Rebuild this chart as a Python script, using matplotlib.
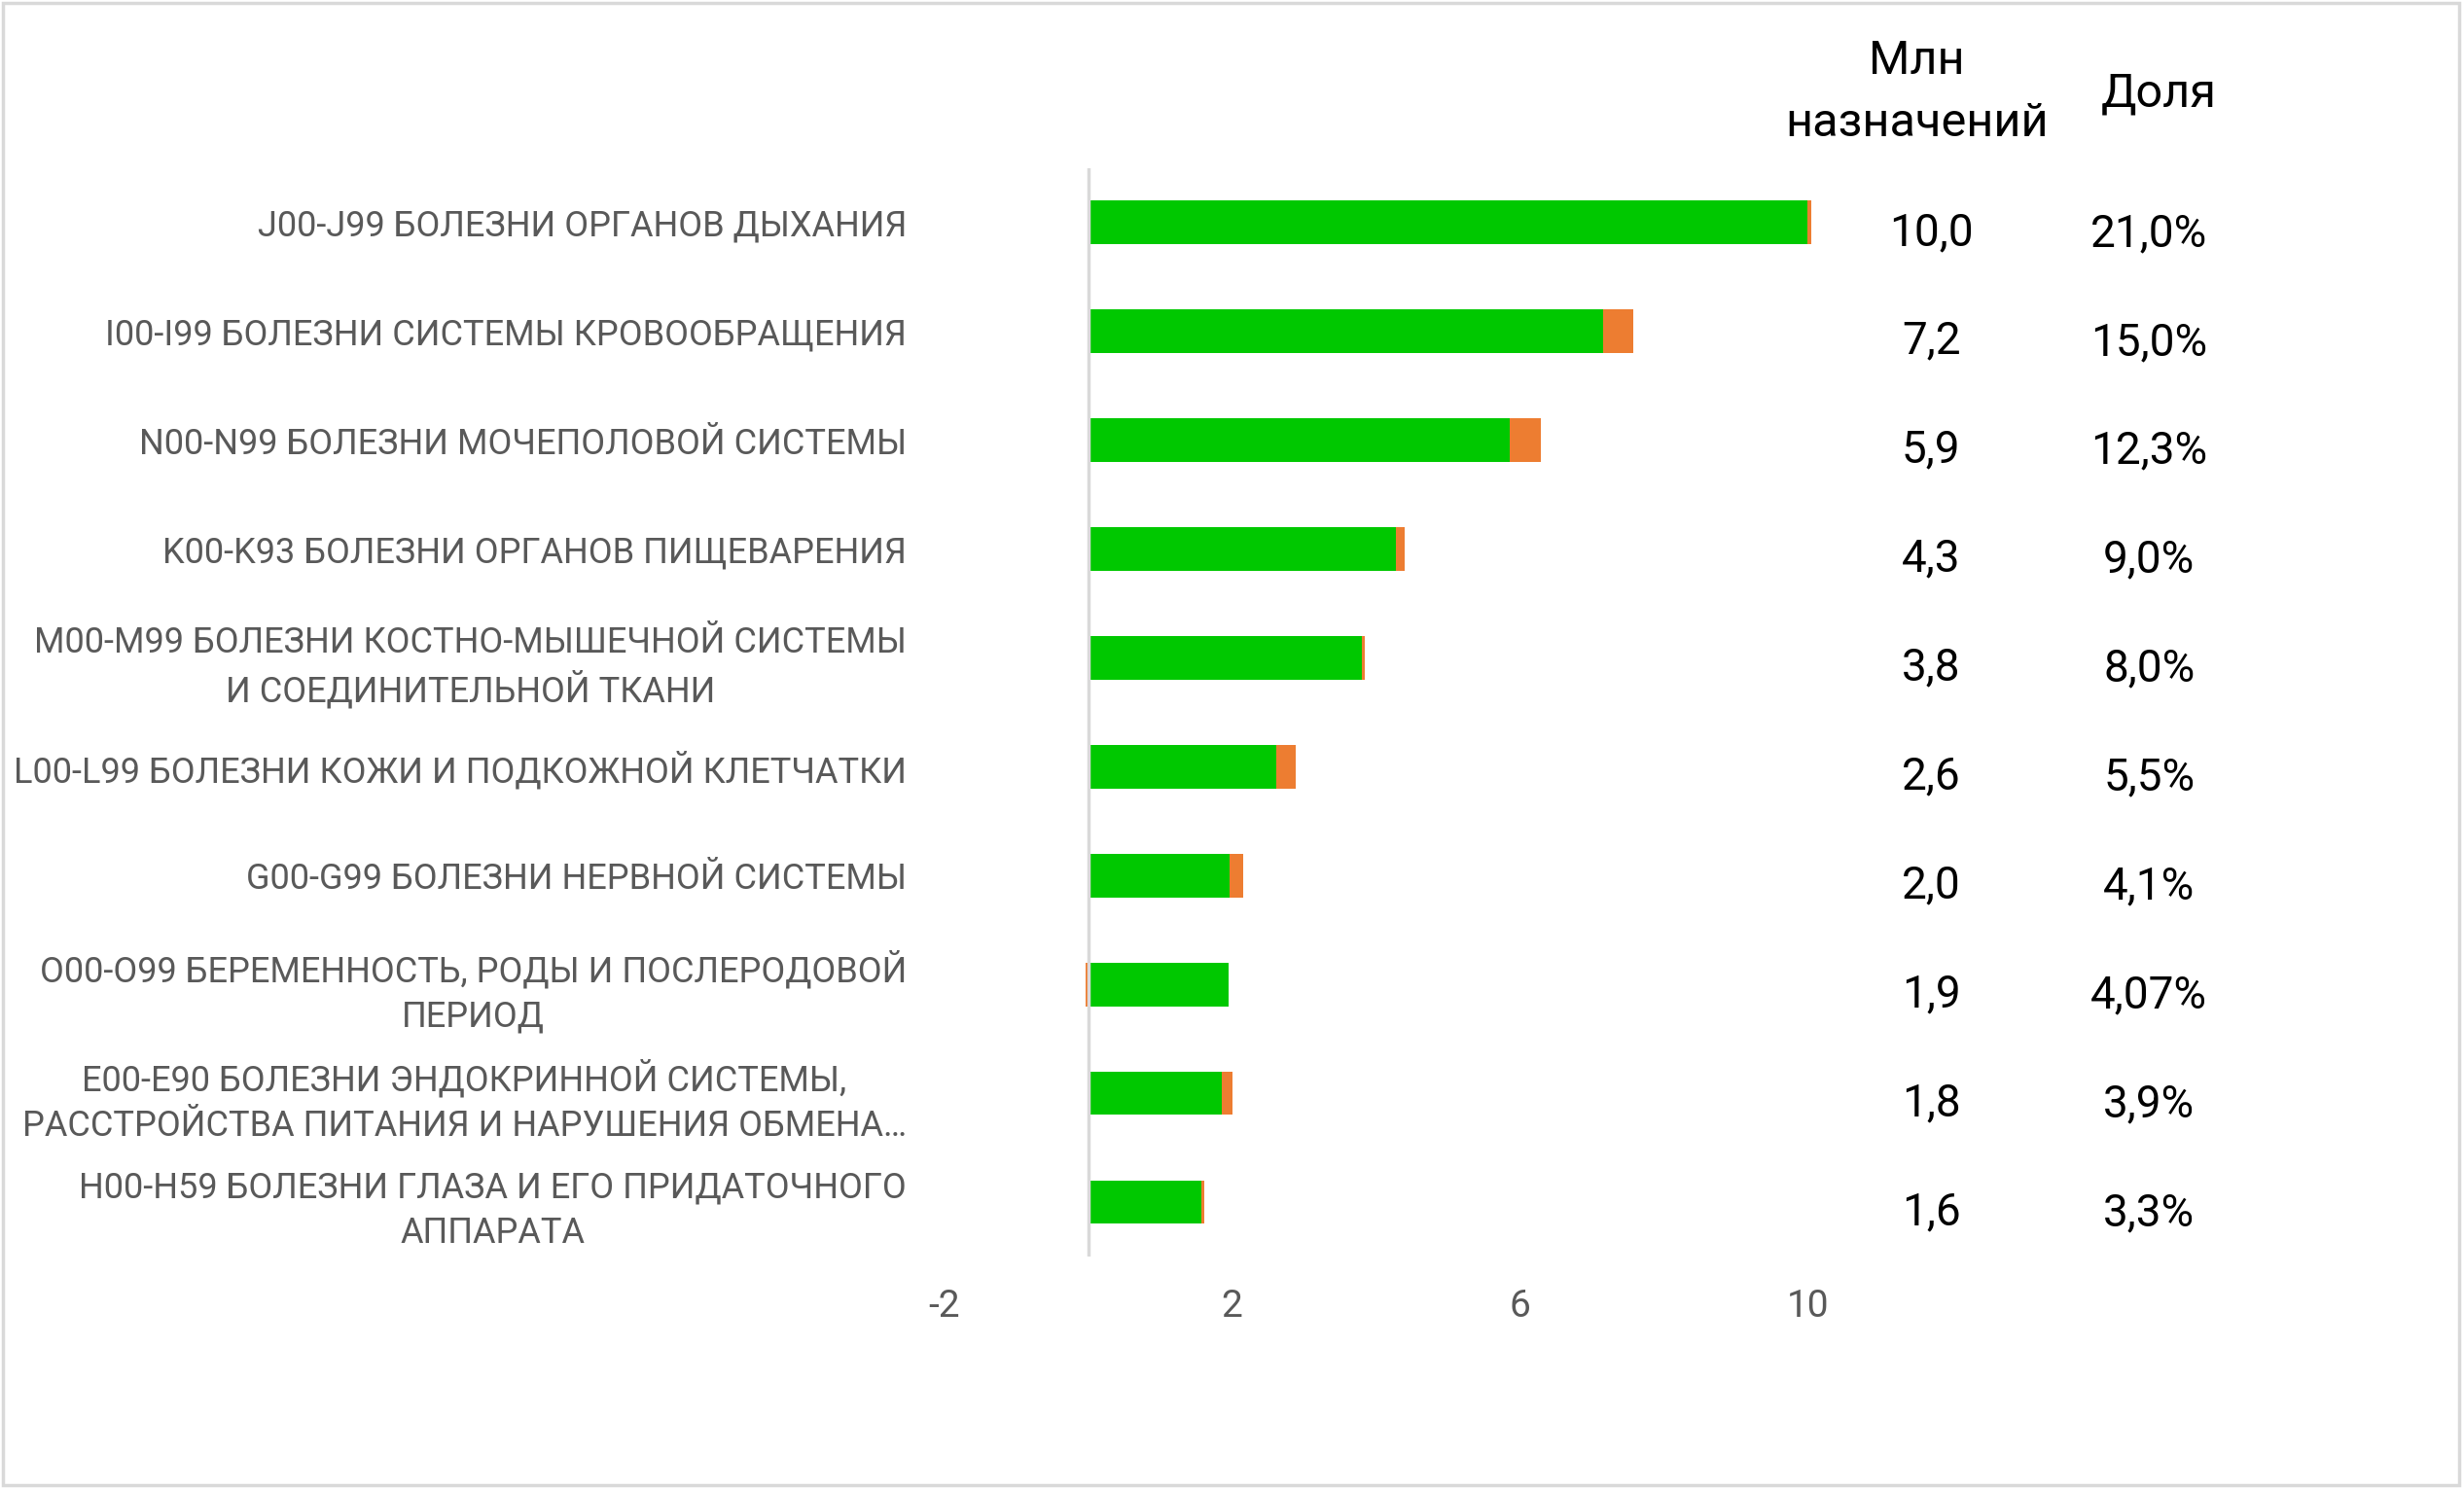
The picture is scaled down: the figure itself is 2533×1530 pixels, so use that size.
import numpy as np
import matplotlib
matplotlib.use("Agg")
from matplotlib import pyplot as plt
from matplotlib.transforms import blended_transform_factory
from matplotlib.patches import Rectangle

plt.rcParams['font.family'] = ['Roboto', 'DejaVu Sans']

# data
categories = [
    "J00-J99 БОЛЕЗНИ ОРГАНОВ ДЫХАНИЯ",
    "I00-I99 БОЛЕЗНИ СИСТЕМЫ КРОВООБРАЩЕНИЯ",
    "N00-N99 БОЛЕЗНИ МОЧЕПОЛОВОЙ СИСТЕМЫ",
    "K00-K93 БОЛЕЗНИ ОРГАНОВ ПИЩЕВАРЕНИЯ",
    "M00-M99 БОЛЕЗНИ КОСТНО-МЫШЕЧНОЙ СИСТЕМЫ\nИ СОЕДИНИТЕЛЬНОЙ ТКАНИ",
    "L00-L99 БОЛЕЗНИ КОЖИ И ПОДКОЖНОЙ КЛЕТЧАТКИ",
    "G00-G99 БОЛЕЗНИ НЕРВНОЙ СИСТЕМЫ",
    "O00-O99 БЕРЕМЕННОСТЬ, РОДЫ И ПОСЛЕРОДОВОЙ\nПЕРИОД",
    "E00-E90 БОЛЕЗНИ ЭНДОКРИННОЙ СИСТЕМЫ,\nРАССТРОЙСТВА ПИТАНИЯ И НАРУШЕНИЯ ОБМЕНА…",
    "H00-H59 БОЛЕЗНИ ГЛАЗА И ЕГО ПРИДАТОЧНОГО\nАППАРАТА",
]
green_vals = [10.0, 7.15, 5.86, 4.27, 3.80, 2.61, 1.96, 1.95, 1.86, 1.57]
orange_vals = [0.05, 0.42, 0.43, 0.13, 0.05, 0.28, 0.19, -0.04, 0.14, 0.04]
mln_labels = ["10,0", "7,2", "5,9", "4,3", "3,8", "2,6", "2,0", "1,9", "1,8", "1,6"]
share_labels = ["21,0%", "15,0%", "12,3%", "9,0%", "8,0%", "5,5%", "4,1%", "4,07%", "3,9%", "3,3%"]
x_ticks = [-2, 2, 6, 10]

GREEN = '#00C800'
ORANGE = '#ED7D31'
GRAY = '#595959'

fig = plt.figure(figsize=(25.33, 15.30), dpi=100)
ax = fig.add_axes([0.3833, 0.1556, 0.4087, 0.7314])

y = np.arange(len(categories))
green = np.array(green_vals)
orange = np.array(orange_vals)
ax.barh(y, green, height=0.4, color=GREEN, zorder=2)
ax.barh(y, orange, left=np.where(orange >= 0, green, 0), height=0.4, color=ORANGE, zorder=2)

ax.axvline(0, color='#D9D9D9', lw=2.5, zorder=3)

ax.set_xlim(-2, 12)
ax.set_ylim(len(categories) - 0.5, -0.5)
ax.set_xticks(x_ticks)
ax.set_xticklabels([str(t) for t in x_ticks])
ax.set_yticks(y)
ax.set_yticklabels(categories)
ax.tick_params(axis='both', length=0, labelcolor=GRAY)
ax.tick_params(axis='y', pad=28, labelsize=26)
ax.tick_params(axis='x', pad=24, labelsize=28)
for lbl in ax.get_yticklabels():
    lbl.set_multialignment('center')
    lbl.set_linespacing(1.35)
for s in ax.spines.values():
    s.set_visible(False)

# side columns
tr = blended_transform_factory(fig.transFigure, ax.transData)
for i in range(len(categories)):
    ax.text(0.7837, i + 0.09, mln_labels[i], transform=tr, ha='center', va='center',
            fontsize=33, color='black', clip_on=False)
    ax.text(0.8722, i + 0.10, share_labels[i], transform=tr, ha='center', va='center',
            fontsize=33, color='black', clip_on=False)

fig.text(0.778, 0.938, "Млн\nназначений", ha='center', va='center', fontsize=35,
         linespacing=1.5, color='black')
fig.text(0.876, 0.937, "Доля", ha='center', va='center', fontsize=35, color='black')

fig.patches.append(Rectangle((0.001, 0.002), 0.997, 0.996, transform=fig.transFigure,
                             fill=False, edgecolor='#D9D9D9', lw=2.5))

fig.savefig('out.png', dpi=100, facecolor='white')
